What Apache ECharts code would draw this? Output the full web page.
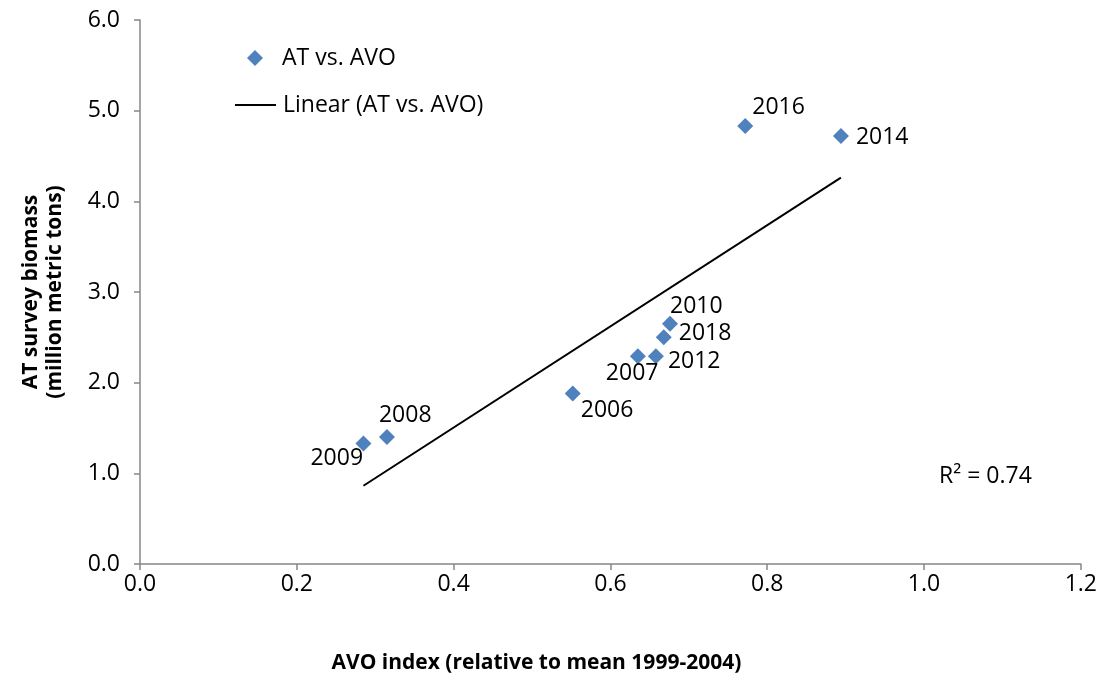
<!DOCTYPE html>
<html>
<head>
<meta charset="utf-8">
<script src="https://cdn.jsdelivr.net/npm/echarts@6/dist/echarts.min.js"></script>
<style>
  html, body { margin: 0; padding: 0; background: #fff; }
  #chart { width: 1100px; height: 681px; }
</style>
</head>
<body>
<div id="chart"></div>
<script>
// Survey years with AVO index (x) and acoustic-trawl biomass, million t (y)
const years    = ['2006', '2007', '2008', '2009', '2010', '2012', '2014', '2016', '2018'];
const avoIndex = [0.552, 0.635, 0.315, 0.285, 0.676, 0.658, 0.894, 0.772, 0.668];
const biomass  = [1.88, 2.29, 1.40, 1.33, 2.65, 2.29, 4.72, 4.83, 2.50];

// Axis ranges and tick spacing
const xTicks = { min: 0, max: 1.2, step: 0.2 };
const yTicks = { min: 0, max: 6, step: 1 };

// Where each year label sits relative to its marker: [dx, dy] from the marker centre to the label's left/middle
const labelOffsets = {
  '2006': [8, 17], '2007': [-32, 17], '2008': [-8, -22], '2009': [-53, 15],
  '2010': [0, -17], '2012': [12, 5], '2014': [15, 1], '2016': [7, -19], '2018': [15, -4]
};

// Ordinary least-squares fit, as drawn by the linear trendline
const n = avoIndex.length;
const mx = avoIndex.reduce((a, b) => a + b, 0) / n;
const my = biomass.reduce((a, b) => a + b, 0) / n;
let sxy = 0, sxx = 0, syy = 0;
for (let i = 0; i < n; i++) {
  sxy += (avoIndex[i] - mx) * (biomass[i] - my);
  sxx += (avoIndex[i] - mx) ** 2;
  syy += (biomass[i] - my) ** 2;
}
const slope = sxy / sxx;
const intercept = my - slope * mx;
const r2 = (sxy * sxy) / (sxx * syy);
const xLo = Math.min(...avoIndex), xHi = Math.max(...avoIndex);
const fitLine = [[xLo, intercept + slope * xLo], [xHi, intercept + slope * xHi]];

const FONT = '"Open Sans", "Liberation Sans", sans-serif';
const axisGray = '#868686';
const markerBlue = '#4F81BD';

const points = years.map((yr, i) => ({
  value: [avoIndex[i], biomass[i]],
  name: yr,
  label: {
    show: true,
    formatter: yr,
    position: 'inside',
    align: 'left',
    verticalAlign: 'middle',
    offset: labelOffsets[yr],
    color: '#000'
  }
}));

const chart = echarts.init(document.getElementById('chart'), null, { renderer: 'canvas' });
chart.setOption({
  animation: false,
  backgroundColor: '#ffffff',
  textStyle: { fontFamily: FONT, color: '#000' },
  grid: { left: 140, right: 18, top: 20, bottom: 117, containLabel: false },
  legend: [
    {
      orient: 'vertical',
      left: 242,
      top: 40,
      itemWidth: 16,
      itemHeight: 16,
      selectedMode: false,
      textStyle: { fontFamily: FONT, fontSize: 23, color: '#000', lineHeight: 26, padding: [0, 0, 0, 14] },
      data: [{ name: 'AT vs. AVO', icon: 'diamond', itemStyle: { color: markerBlue, opacity: 1 } }]
    },
    {
      orient: 'vertical',
      left: 230,
      top: 87,
      itemWidth: 41,
      itemHeight: 2,
      selectedMode: false,
      textStyle: { fontFamily: FONT, fontSize: 23, color: '#000', lineHeight: 26, padding: [0, 0, 0, 2] },
      data: [{ name: 'Linear (AT vs. AVO)', icon: 'rect', itemStyle: { color: '#000' } }]
    }
  ],
  xAxis: {
    type: 'value',
    min: xTicks.min, max: xTicks.max, interval: xTicks.step,
    name: 'AVO index (relative to mean 1999-2004)',
    nameLocation: 'middle',
    nameGap: 89,
    nameTextStyle: { fontFamily: FONT, fontSize: 21, fontWeight: 'bold', color: '#000', padding: [0, 148, 0, 0] },
    axisLine: { show: true, onZero: false, lineStyle: { color: axisGray, width: 1.5 } },
    axisTick: { show: true, inside: false, length: 6, lineStyle: { color: axisGray, width: 1.5 } },
    axisLabel: { fontFamily: FONT, fontSize: 23, color: '#000', margin: 9, formatter: v => v.toFixed(1) },
    splitLine: { show: false }
  },
  yAxis: {
    type: 'value',
    min: yTicks.min, max: yTicks.max, interval: yTicks.step,
    name: 'AT survey biomass\n(million metric tons)',
    nameLocation: 'middle',
    nameGap: 73,
    nameRotate: 90,
    nameTextStyle: { fontFamily: FONT, fontSize: 21, fontWeight: 'bold', color: '#000', lineHeight: 24, align: 'center' },
    axisLine: { show: true, onZero: false, lineStyle: { color: axisGray, width: 1.5 } },
    axisTick: { show: true, inside: false, length: 6, lineStyle: { color: axisGray, width: 1.5 } },
    axisLabel: { fontFamily: FONT, fontSize: 23, color: '#000', margin: 20, formatter: v => v.toFixed(1) },
    splitLine: { show: false }
  },
  series: [
    {
      name: 'AT vs. AVO',
      type: 'scatter',
      symbol: 'diamond',
      symbolSize: 16,
      itemStyle: { color: markerBlue, opacity: 1 },
      label: { fontFamily: FONT, fontSize: 23, color: '#000' },
      data: points,
      z: 3
    },
    {
      name: 'Linear (AT vs. AVO)',
      type: 'line',
      symbol: 'none',
      lineStyle: { color: '#000', width: 2 },
      itemStyle: { color: '#000' },
      data: fitLine,
      z: 2
    }
  ],
  graphic: [
    {
      type: 'text',
      left: 939,
      top: 465,
      style: { text: 'R² = ' + r2.toFixed(2), font: '23px ' + FONT, fill: '#000' }
    }
  ]
});
</script>
</body>
</html>
